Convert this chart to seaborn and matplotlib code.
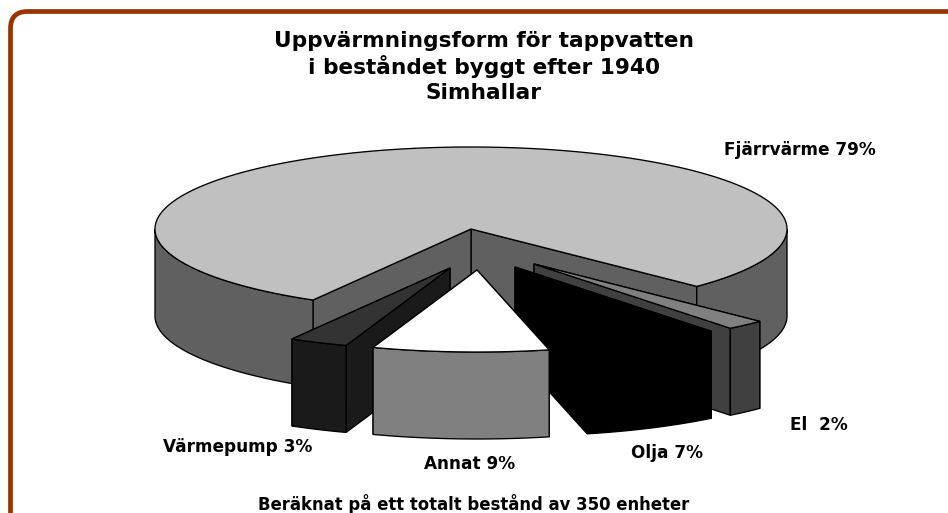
import numpy as np
import matplotlib
matplotlib.use('Agg')
import matplotlib.pyplot as plt
from matplotlib.patches import FancyBboxPatch
import seaborn as sns

# Chart data
categories = ['Fjärrvärme', 'El', 'Olja', 'Annat', 'Värmepump']
shares = [79, 2, 7, 9, 3]
labels = ['Fjärrvärme 79%', 'El  2%', 'Olja 7%', 'Annat 9%', 'Värmepump 3%']
title_lines = ['Uppvärmningsform för tappvatten', 'i beståndet byggt efter 1940', 'Simhallar']
footnote = 'Beräknat på ett totalt bestånd av 350 enheter'

# Pie geometry in pixels
CX, CY = 471, 229
RX, RY = 316, 82
DEPTH = 87
START = 134.4
EXPLODE = {'Fjärrvärme': (0, 0), 'El': (63, 35), 'Olja': (44, 38), 'Annat': (6, 41), 'Värmepump': (-21, 39)}
LABEL_POS = {'Fjärrvärme': (800, 150), 'El': (819, 425), 'Olja': (667, 453), 'Annat': (470, 464), 'Värmepump': (238, 447)}

# top, wall colours per slice
TOP_COLORS = sns.color_palette(['#c0c0c0', '#808080', '#000000', '#ffffff', '#333333'])
WALL_COLORS = sns.color_palette(['#606060', '#404040', '#000000', '#808080', '#1a1a1a'])


def arc(x0, y0, a1, a2):
    # angles run clockwise from the top of the ellipse
    t = np.radians(np.linspace(a1, a2, max(int(abs(a2 - a1)) * 2, 2)))
    return x0 + RX * np.sin(t), y0 - RY * np.cos(t)


def wall(ax, xs, ys, color):
    x = np.concatenate([xs, xs[::-1]])
    y = np.concatenate([ys, ys[::-1] + DEPTH])
    ax.fill(x, y, facecolor=color, edgecolor='black', linewidth=0.95, joinstyle='miter')


def draw_slice(ax, x0, y0, a1, a2, top, side):
    ends = sorted([a1, a2], key=lambda a: -abs((a % 360) - 180))
    for a in ends:
        ex, ey = arc(x0, y0, a, a)
        wall(ax, np.array([x0, ex[0]]), np.array([y0, ey[0]]), side)
    # only the part of the rim facing the viewer shows
    for lo, hi in [(90, 270), (450, 630)]:
        s, e = max(a1, lo), min(a2, hi)
        if s < e:
            wall(ax, *arc(x0, y0, s, e), side)
    ax_x, ax_y = arc(x0, y0, a1, a2)
    ax.fill(np.r_[x0, ax_x], np.r_[y0, ax_y], facecolor=top, edgecolor='black', linewidth=0.95)


sns.set_theme(style='white')
plt.rcParams['font.family'] = ['DejaVu Sans']

fig = plt.figure(figsize=(9.48, 5.13), dpi=100)
ax = fig.add_axes([0, 0, 1, 1])
ax.set_xlim(0, 948)
ax.set_ylim(513, 0)
ax.axis('off')

# Frame runs off the bottom of the picture and stops at the right edge
ax.add_patch(FancyBboxPatch((27.5, 28.5), 1000, 600, boxstyle='round,pad=17,rounding_size=17',
                            facecolor='white', edgecolor='#993300', linewidth=3.4))

# Angles for each slice from the shares
angles = {}
a = START
for name, share in zip(categories[1:] + categories[:1], shares[1:] + shares[:1]):
    angles[name] = (a, a + share * 3.6)
    a += share * 3.6

# Back to front so the front slices overlap the others
for name in ['Fjärrvärme', 'El', 'Värmepump', 'Olja', 'Annat']:
    i = categories.index(name)
    dx, dy = EXPLODE[name]
    draw_slice(ax, CX + dx, CY + dy, angles[name][0], angles[name][1], TOP_COLORS[i], WALL_COLORS[i])

for name, label in zip(categories, labels):
    x, y = LABEL_POS[name]
    ax.text(x, y, label, ha='center', va='center', fontsize=12.2, fontweight='bold', color='black')

for y, line in zip([41, 67, 93], title_lines):
    ax.text(484, y, line, ha='center', va='center', fontsize=15.6, fontweight='bold', color='black')

ax.text(474, 504, footnote, ha='center', va='center', fontsize=11.9, fontweight='bold', color='black')

fig.savefig('out.png', dpi=100)
